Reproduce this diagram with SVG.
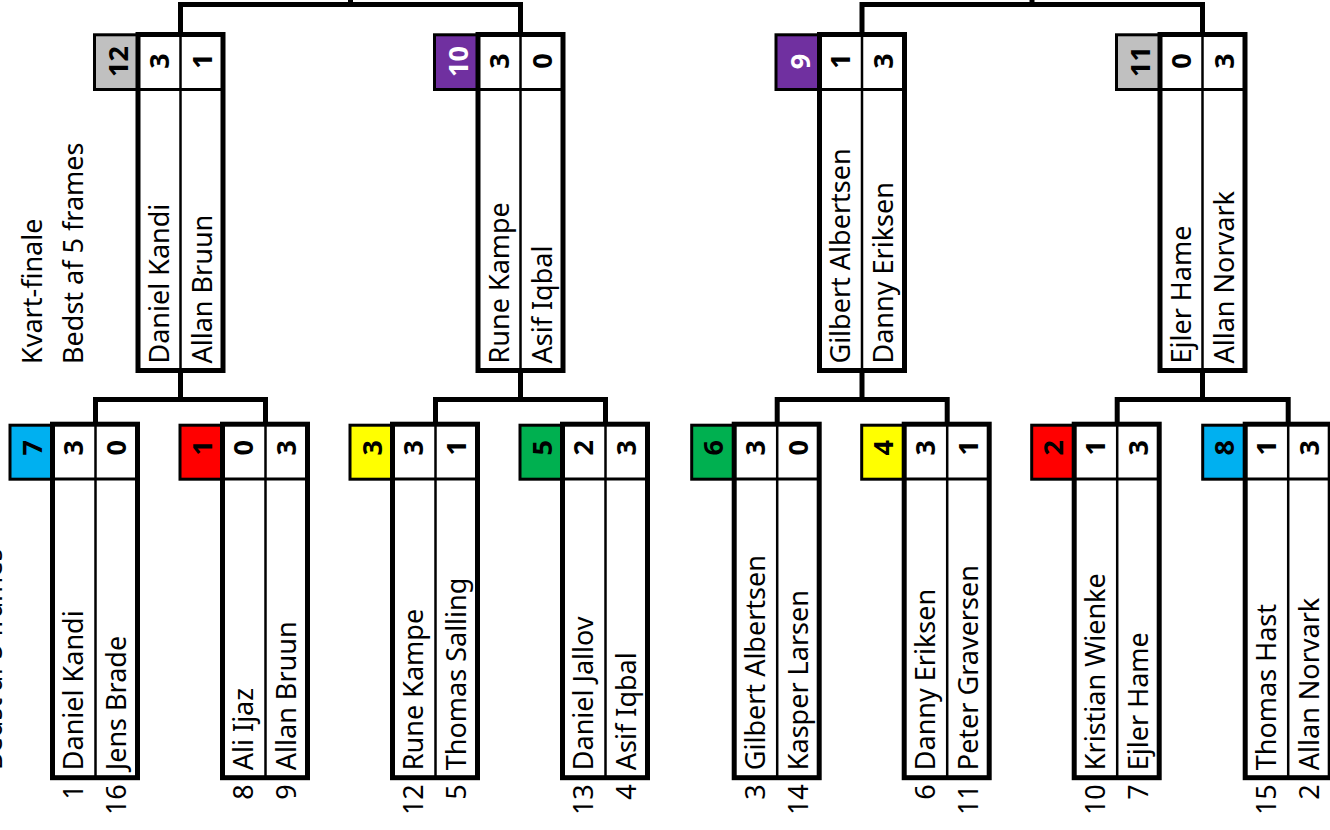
<svg xmlns="http://www.w3.org/2000/svg" width="1330" height="830" viewBox="0 0 1330 830">
<style>
.box{fill:#fff;stroke:#000;stroke-width:5}
.seed{stroke:#000;stroke-width:3}
.div{stroke:#000;stroke-width:2.5}
.sep{stroke:#000;stroke-width:3}
.t{font-family:"Noto Sans","Open Sans","Liberation Sans",sans-serif;font-size:27px;fill:#000}
.s{font-weight:bold;text-anchor:middle}
.w{fill:#fff}
.e{text-anchor:end}
.con{fill:none;stroke:#000;stroke-width:5}
</style>
<rect width="1330" height="830" fill="#fff"/>

<g id="title">
<text class="t" transform="translate(42,364) rotate(-90)">Kvart-finale</text>
<text class="t" transform="translate(83,364) rotate(-90)">Bedst af 5 frames</text>
<text class="t" transform="translate(1.5,770) rotate(-90)">Bedst af 5 frames</text>
</g>

<g id="connectors">
<path class="con" d="M180.5,34 V4.5 H520.5 V34 M350.5,4.5 V0"/>
<path class="con" d="M862,34 V4.5 H1202.5 V34 M1032,4.5 V0"/>
<path class="con" d="M180.5,371 V399.5 M95.5,424 V399.5 H265.5 V424"/>
<path class="con" d="M520.5,371 V399.5 M435.5,424 V399.5 H605.5 V424"/>
<path class="con" d="M862,371 V399.5 M777.2,424 V399.5 H947.2 V424"/>
<path class="con" d="M1202.5,371 V399.5 M1117.2,424 V399.5 H1288.2 V424"/>
</g>

<!-- Quarter-finals -->
<g id="qf1" transform="translate(135.5,32)">
<rect class="seed" x="-41" y="2.8" width="43.5" height="54.7" fill="#C0C0C0"/>
<rect class="box" x="2.5" y="2.5" width="85" height="336"/>
<line class="sep" x1="2.5" y1="57.5" x2="87.5" y2="57.5"/>
<line class="div" x1="45" y1="2.5" x2="45" y2="338.5"/>
<text class="t s" transform="translate(-7.5,29.5) rotate(-90)">12</text>
<text class="t s" transform="translate(33,29) rotate(-90)">3</text>
<text class="t s" transform="translate(76,29) rotate(-90)">1</text>
<text class="t" transform="translate(33,331.5) rotate(-90)">Daniel Kandi</text>
<text class="t" transform="translate(76,331.5) rotate(-90)">Allan Bruun</text>
</g>
<g id="qf2" transform="translate(475.5,32)">
<rect class="seed" x="-41" y="2.8" width="43.5" height="54.7" fill="#7030A0"/>
<rect class="box" x="2.5" y="2.5" width="85" height="336"/>
<line class="sep" x1="2.5" y1="57.5" x2="87.5" y2="57.5"/>
<line class="div" x1="45" y1="2.5" x2="45" y2="338.5"/>
<text class="t s w" transform="translate(-7.5,29.5) rotate(-90)">10</text>
<text class="t s" transform="translate(33,29) rotate(-90)">3</text>
<text class="t s" transform="translate(76,29) rotate(-90)">0</text>
<text class="t" transform="translate(33,331.5) rotate(-90)">Rune Kampe</text>
<text class="t" transform="translate(76,331.5) rotate(-90)">Asif Iqbal</text>
</g>
<g id="qf3" transform="translate(817,32)">
<rect class="seed" x="-41" y="2.8" width="43.5" height="54.7" fill="#7030A0"/>
<rect class="box" x="2.5" y="2.5" width="85" height="336"/>
<line class="sep" x1="2.5" y1="57.5" x2="87.5" y2="57.5"/>
<line class="div" x1="45" y1="2.5" x2="45" y2="338.5"/>
<text class="t s w" transform="translate(-7.5,29.5) rotate(-90)">9</text>
<text class="t s" transform="translate(33,29) rotate(-90)">1</text>
<text class="t s" transform="translate(76,29) rotate(-90)">3</text>
<text class="t" transform="translate(33,331.5) rotate(-90)">Gilbert Albertsen</text>
<text class="t" transform="translate(76,331.5) rotate(-90)">Danny Eriksen</text>
</g>
<g id="qf4" transform="translate(1157.5,32)">
<rect class="seed" x="-41" y="2.8" width="43.5" height="54.7" fill="#C0C0C0"/>
<rect class="box" x="2.5" y="2.5" width="85" height="336"/>
<line class="sep" x1="2.5" y1="57.5" x2="87.5" y2="57.5"/>
<line class="div" x1="45" y1="2.5" x2="45" y2="338.5"/>
<text class="t s" transform="translate(-7.5,29.5) rotate(-90)">11</text>
<text class="t s" transform="translate(33,29) rotate(-90)">0</text>
<text class="t s" transform="translate(76,29) rotate(-90)">3</text>
<text class="t" transform="translate(33,331.5) rotate(-90)">Ejler Hame</text>
<text class="t" transform="translate(76,331.5) rotate(-90)">Allan Norvark</text>
</g>

<!-- Round 1 -->
<g id="r1" transform="translate(50,421.7)">
<rect class="seed" x="-40" y="3.5" width="42.5" height="54" fill="#00B0F0"/>
<rect class="box" x="2.5" y="2.5" width="85" height="353.5"/>
<line class="sep" x1="2.5" y1="57.3" x2="87.5" y2="57.3"/>
<line class="div" x1="45.5" y1="2.5" x2="45.5" y2="356"/>
<text class="t s" transform="translate(-8.5,26) rotate(-90)">7</text>
<text class="t s" transform="translate(33,26) rotate(-90)">3</text>
<text class="t s" transform="translate(76,26) rotate(-90)">0</text>
<text class="t" transform="translate(33,348.5) rotate(-90)">Daniel Kandi</text>
<text class="t" transform="translate(76,348.5) rotate(-90)">Jens Brade</text>
<text class="t e" transform="translate(33,362.5) rotate(-90)">1</text>
<text class="t e" transform="translate(76,362.5) rotate(-90)">16</text>
</g>
<g id="r2" transform="translate(220,421.7)">
<rect class="seed" x="-40" y="3.5" width="42.5" height="54" fill="#FF0000"/>
<rect class="box" x="2.5" y="2.5" width="85" height="353.5"/>
<line class="sep" x1="2.5" y1="57.3" x2="87.5" y2="57.3"/>
<line class="div" x1="45.5" y1="2.5" x2="45.5" y2="356"/>
<text class="t s" transform="translate(-8.5,26) rotate(-90)">1</text>
<text class="t s" transform="translate(33,26) rotate(-90)">0</text>
<text class="t s" transform="translate(76,26) rotate(-90)">3</text>
<text class="t" transform="translate(33,348.5) rotate(-90)">Ali Ijaz</text>
<text class="t" transform="translate(76,348.5) rotate(-90)">Allan Bruun</text>
<text class="t e" transform="translate(33,362.5) rotate(-90)">8</text>
<text class="t e" transform="translate(76,362.5) rotate(-90)">9</text>
</g>
<g id="r3" transform="translate(390,421.7)">
<rect class="seed" x="-40" y="3.5" width="42.5" height="54" fill="#FFFF00"/>
<rect class="box" x="2.5" y="2.5" width="85" height="353.5"/>
<line class="sep" x1="2.5" y1="57.3" x2="87.5" y2="57.3"/>
<line class="div" x1="45.5" y1="2.5" x2="45.5" y2="356"/>
<text class="t s" transform="translate(-8.5,26) rotate(-90)">3</text>
<text class="t s" transform="translate(33,26) rotate(-90)">3</text>
<text class="t s" transform="translate(76,26) rotate(-90)">1</text>
<text class="t" transform="translate(33,348.5) rotate(-90)">Rune Kampe</text>
<text class="t" transform="translate(76,348.5) rotate(-90)">Thomas Salling</text>
<text class="t e" transform="translate(33,362.5) rotate(-90)">12</text>
<text class="t e" transform="translate(76,362.5) rotate(-90)">5</text>
</g>
<g id="r4" transform="translate(560,421.7)">
<rect class="seed" x="-40" y="3.5" width="42.5" height="54" fill="#00B050"/>
<rect class="box" x="2.5" y="2.5" width="85" height="353.5"/>
<line class="sep" x1="2.5" y1="57.3" x2="87.5" y2="57.3"/>
<line class="div" x1="45.5" y1="2.5" x2="45.5" y2="356"/>
<text class="t s" transform="translate(-8.5,26) rotate(-90)">5</text>
<text class="t s" transform="translate(33,26) rotate(-90)">2</text>
<text class="t s" transform="translate(76,26) rotate(-90)">3</text>
<text class="t" transform="translate(33,348.5) rotate(-90)">Daniel Jallov</text>
<text class="t" transform="translate(76,348.5) rotate(-90)">Asif Iqbal</text>
<text class="t e" transform="translate(33,362.5) rotate(-90)">13</text>
<text class="t e" transform="translate(76,362.5) rotate(-90)">4</text>
</g>
<g id="r5" transform="translate(731.7,421.7)">
<rect class="seed" x="-40" y="3.5" width="42.5" height="54" fill="#00B050"/>
<rect class="box" x="2.5" y="2.5" width="85" height="353.5"/>
<line class="sep" x1="2.5" y1="57.3" x2="87.5" y2="57.3"/>
<line class="div" x1="45.5" y1="2.5" x2="45.5" y2="356"/>
<text class="t s" transform="translate(-8.5,26) rotate(-90)">6</text>
<text class="t s" transform="translate(33,26) rotate(-90)">3</text>
<text class="t s" transform="translate(76,26) rotate(-90)">0</text>
<text class="t" transform="translate(33,348.5) rotate(-90)">Gilbert Albertsen</text>
<text class="t" transform="translate(76,348.5) rotate(-90)">Kasper Larsen</text>
<text class="t e" transform="translate(33,362.5) rotate(-90)">3</text>
<text class="t e" transform="translate(76,362.5) rotate(-90)">14</text>
</g>
<g id="r6" transform="translate(901.7,421.7)">
<rect class="seed" x="-40" y="3.5" width="42.5" height="54" fill="#FFFF00"/>
<rect class="box" x="2.5" y="2.5" width="85" height="353.5"/>
<line class="sep" x1="2.5" y1="57.3" x2="87.5" y2="57.3"/>
<line class="div" x1="45.5" y1="2.5" x2="45.5" y2="356"/>
<text class="t s" transform="translate(-8.5,26) rotate(-90)">4</text>
<text class="t s" transform="translate(33,26) rotate(-90)">3</text>
<text class="t s" transform="translate(76,26) rotate(-90)">1</text>
<text class="t" transform="translate(33,348.5) rotate(-90)">Danny Eriksen</text>
<text class="t" transform="translate(76,348.5) rotate(-90)">Peter Graversen</text>
<text class="t e" transform="translate(33,362.5) rotate(-90)">6</text>
<text class="t e" transform="translate(76,362.5) rotate(-90)">11</text>
</g>
<g id="r7" transform="translate(1071.7,421.7)">
<rect class="seed" x="-40" y="3.5" width="42.5" height="54" fill="#FF0000"/>
<rect class="box" x="2.5" y="2.5" width="85" height="353.5"/>
<line class="sep" x1="2.5" y1="57.3" x2="87.5" y2="57.3"/>
<line class="div" x1="45.5" y1="2.5" x2="45.5" y2="356"/>
<text class="t s" transform="translate(-8.5,26) rotate(-90)">2</text>
<text class="t s" transform="translate(33,26) rotate(-90)">1</text>
<text class="t s" transform="translate(76,26) rotate(-90)">3</text>
<text class="t" transform="translate(33,348.5) rotate(-90)">Kristian Wienke</text>
<text class="t" transform="translate(76,348.5) rotate(-90)">Ejler Hame</text>
<text class="t e" transform="translate(33,362.5) rotate(-90)">10</text>
<text class="t e" transform="translate(76,362.5) rotate(-90)">7</text>
</g>
<g id="r8" transform="translate(1242.7,421.7)">
<rect class="seed" x="-40" y="3.5" width="42.5" height="54" fill="#00B0F0"/>
<rect class="box" x="2.5" y="2.5" width="85" height="353.5"/>
<line class="sep" x1="2.5" y1="57.3" x2="87.5" y2="57.3"/>
<line class="div" x1="45.5" y1="2.5" x2="45.5" y2="356"/>
<text class="t s" transform="translate(-8.5,26) rotate(-90)">8</text>
<text class="t s" transform="translate(33,26) rotate(-90)">1</text>
<text class="t s" transform="translate(76,26) rotate(-90)">3</text>
<text class="t" transform="translate(33,348.5) rotate(-90)">Thomas Hast</text>
<text class="t" transform="translate(76,348.5) rotate(-90)">Allan Norvark</text>
<text class="t e" transform="translate(33,362.5) rotate(-90)">15</text>
<text class="t e" transform="translate(76,362.5) rotate(-90)">2</text>
</g>
</svg>
